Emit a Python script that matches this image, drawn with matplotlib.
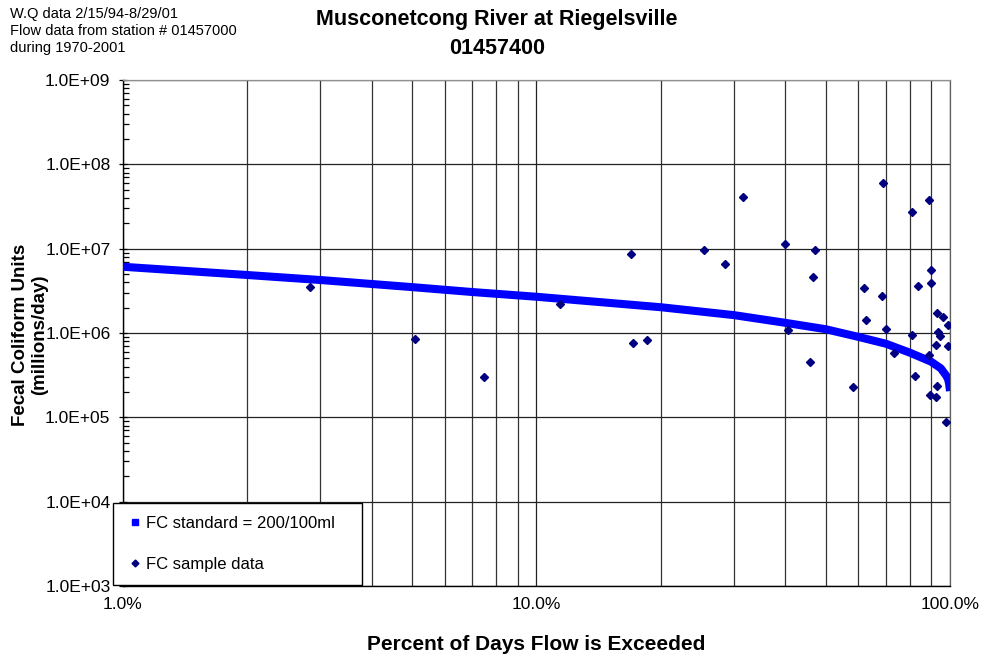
import matplotlib
matplotlib.use("Agg")
import matplotlib.pyplot as plt
from matplotlib.lines import Line2D
from matplotlib.ticker import LogLocator, FixedLocator, FuncFormatter, NullFormatter

plt.rcParams['font.family'] = ['Liberation Sans', 'DejaVu Sans']

# Flow duration curve for FC standard (percent exceeded, millions/day)
curve_pct = [1.0, 2.0, 3.0, 5.0, 7.0, 10.0, 20.0, 30.0, 40.0, 50.0, 60.0, 70.0,
             80.0, 90.0, 95.0, 98.0, 99.0, 99.5, 100.0]
curve_val = [6.1e6, 4.87e6, 4.25e6, 3.5e6, 3.06e6, 2.69e6, 2.02e6, 1.63e6, 1.32e6,
             1.11e6, 9.0e5, 7.46e5, 5.84e5, 4.57e5, 3.81e5, 3.1e5, 2.8e5, 2.5e5, 2.05e5]

# FC sample data
sample_pct = [2.83, 5.08, 7.48, 11.37, 16.96, 17.09, 18.47, 25.42, 28.61, 31.58,
              39.83, 40.57, 45.94, 46.70, 47.07, 58.35, 61.94, 62.53, 68.36, 68.87,
              70.15, 73.2, 80.8, 80.8, 82.3, 83.8, 88.97, 89.8, 89.8, 89.2,
              89.7, 92.8, 96.2, 99.1, 93.7, 94.7, 92.4, 99.0, 93.0, 92.4, 97.8]
sample_val = [3.54e6, 8.55e5, 2.98e5, 2.19e6, 8.57e6, 7.61e5, 8.32e5, 9.64e6, 6.53e6, 4.13e7,
              1.13e7, 1.09e6, 4.57e5, 4.57e6, 9.64e6, 2.27e5, 3.44e6, 1.44e6, 2.72e6, 6.05e7,
              1.12e6, 5.79e5, 2.70e7, 9.47e5, 3.06e5, 3.58e6, 3.75e7, 5.58e6, 3.88e6, 5.48e5,
              1.84e5, 1.71e6, 1.53e6, 1.24e6, 1.04e6, 9.21e5, 7.21e5, 6.95e5, 2.35e5, 1.73e5, 8.69e4]

x_ticks = [1, 10, 100]
x_labels = ["1.0%", "10.0%", "100.0%"]

title_lines = ["Musconetcong River at Riegelsville", "01457400"]
note_lines = ["W.Q data 2/15/94-8/29/01", "Flow data from station # 01457000", "during 1970-2001"]
legend_labels = ["FC standard = 200/100ml", "FC sample data"]
y_title = "Fecal Coliform Units\n(millions/day)"
x_title = "Percent of Days Flow is Exceeded"

W, H = 982, 658
fig = plt.figure(figsize=(W / 100, H / 100), dpi=100)
L, R, T, B = 123, 950, 80, 586
ax = fig.add_axes([L / W, 1 - B / H, (R - L) / W, (B - T) / H])

ax.set_xscale('log')
ax.set_yscale('log')
ax.set_xlim(1, 100)
ax.set_ylim(1e3, 1e9)

ax.plot(curve_pct, curve_val, color='#0000FF', lw=5.8, solid_capstyle='butt',
        solid_joinstyle='round', zorder=3)
ax.plot(sample_pct, sample_val, linestyle='none', marker='D', ms=4.2,
        color='#000080', mec='#000080', zorder=4)

# grid
ax.xaxis.set_major_locator(FixedLocator(x_ticks))
ax.xaxis.set_minor_locator(LogLocator(base=10, subs=range(2, 10), numticks=20))
ax.xaxis.set_major_formatter(FuncFormatter(lambda v, p: x_labels[x_ticks.index(round(v))] if round(v) in x_ticks else ""))
ax.xaxis.set_minor_formatter(NullFormatter())
ax.yaxis.set_major_locator(LogLocator(base=10, numticks=20))
ax.yaxis.set_minor_locator(LogLocator(base=10, subs=range(2, 10), numticks=20))
ax.yaxis.set_major_formatter(FuncFormatter(lambda v, p: f"{v:.1E}"))
ax.yaxis.set_minor_formatter(NullFormatter())

ax.grid(True, which='major', axis='both', color='#222222', lw=0.9)
ax.grid(True, which='minor', axis='x', color='#333333', lw=0.9)
ax.set_axisbelow(True)

ax.tick_params(axis='x', which='both', length=0, labelsize=12.5, pad=8, colors='black')
ax.tick_params(axis='y', which='major', direction='inout', length=6, width=0.9, labelsize=12.5, pad=6)
ax.tick_params(axis='y', which='minor', direction='in', length=4, width=0.9)

for s in ['left', 'bottom']:
    ax.spines[s].set_color('black')
    ax.spines[s].set_linewidth(1.0)
ax.spines['top'].set_color('#909090')
ax.spines['right'].set_color('#606060')
ax.spines['top'].set_linewidth(0.9)
ax.spines['right'].set_linewidth(0.9)

ax.set_xlabel(x_title, fontsize=15, fontweight='bold', labelpad=16.5)
fig.text(30 / W, 1 - 335 / H, y_title, rotation=90, ha='center', va='center',
         fontsize=13.5, fontweight='bold', linespacing=1.15, multialignment='center')

fig.text(497 / W, 1 - 20 / H, title_lines[0], ha='center', va='center', fontsize=15.5, fontweight='bold')
fig.text(497 / W, 1 - 48 / H, title_lines[1], ha='center', va='center', fontsize=15.5, fontweight='bold')

for i, line in enumerate(note_lines):
    fig.text(10 / W, 1 - (14 + 17 * i) / H, line, ha='left', va='center', fontsize=10.5)

handles = [Line2D([], [], linestyle='none', marker='s', ms=4.5, color='#0000FF'),
           Line2D([], [], linestyle='none', marker='D', ms=3.5, color='#000080')]
leg = ax.legend(handles, legend_labels, loc='lower left',
                bbox_to_anchor=((113 - L) / (R - L), (B - 585) / (B - T), (362 - 113) / (R - L), 0.1),
                mode='expand', fontsize=12, frameon=True, fancybox=False, framealpha=1,
                edgecolor='black', handlelength=1.1, handletextpad=0.1, labelspacing=1.6,
                borderpad=0.76, borderaxespad=0)
leg.get_frame().set_linewidth(1.0)
leg.set_zorder(10)

fig.savefig("out.png", dpi=100)
